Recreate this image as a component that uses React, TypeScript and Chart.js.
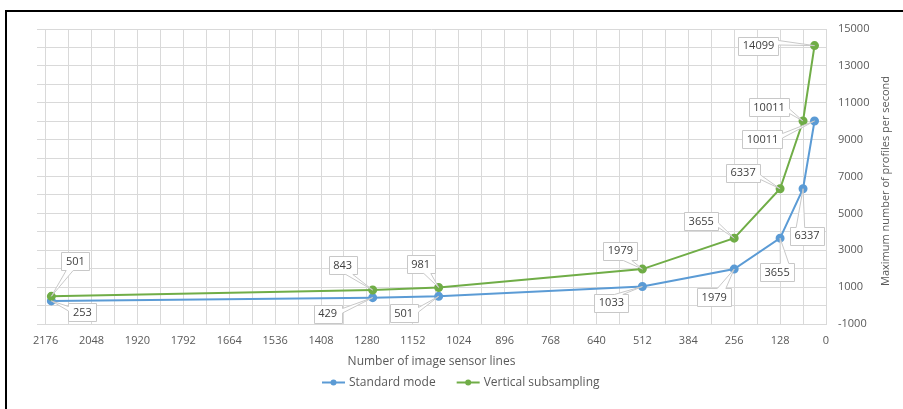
import React, { useEffect, useRef } from "react";
import { Chart, registerables } from "chart.js";

Chart.register(...registerables);

// ---- data ----
const sensorLines = [2160, 1264, 1080, 512, 256, 128, 64, 32];
const standardMode = [253, 429, 501, 1033, 1979, 3655, 6337, 10011];
const verticalSubsampling = [501, 843, 981, 1979, 3655, 6337, 10011, 14099];
const seriesNames = ["Standard mode", "Vertical subsampling"];
const xAxisTitle = "Number of image sensor lines";
const yAxisTitle = "Maximum number of profiles per second";
const xTickMax = 2176;
const xGridStep = 64;
const xLabelStep = 128;

// ---- styling / label placement (px offsets of label centres from points) ----
const standardLabelOffsets = [[31, 11], [-45, 16], [-35, 17], [-31, 16], [-20, 28], [-3, 34], [4, 47], [-52, 18]];
const subsamplingLabelOffsets = [[24, -35], [-30, -25], [-18, -23], [-22, -18.5], [-33, -17], [-37, -16], [-34, -14], [-56, 0]];
const BLUE = "#5B9BD5";
const GREEN = "#70AD47";
const TEXT = "#595959";
const GRID = "#d9d9d9";
const FONT = "'Open Sans', sans-serif";

function wedgePath(ctx: CanvasRenderingContext2D, l: number, t: number, w: number, h: number, xPos: number, yPos: number) {
  const r = l + w, b = t + h, hc = l + w / 2, vc = t + h / 2;
  const dxPos = xPos - hc, dyPos = yPos - vc;
  const dq = (dxPos * h) / w;
  const dz = Math.abs(dyPos) - Math.abs(dq);
  const x1 = l + (w * (dxPos > 0 ? 7 : 2)) / 12;
  const x2 = l + (w * (dxPos > 0 ? 10 : 5)) / 12;
  const y1 = t + (h * (dyPos > 0 ? 7 : 2)) / 12;
  const y2 = t + (h * (dyPos > 0 ? 10 : 5)) / 12;
  ctx.beginPath();
  if (dz > 0) {
    if (dyPos < 0) {
      ctx.moveTo(l, t); ctx.lineTo(x1, t); ctx.lineTo(xPos, yPos); ctx.lineTo(x2, t);
      ctx.lineTo(r, t); ctx.lineTo(r, b); ctx.lineTo(l, b);
    } else {
      ctx.moveTo(l, t); ctx.lineTo(r, t); ctx.lineTo(r, b); ctx.lineTo(x2, b);
      ctx.lineTo(xPos, yPos); ctx.lineTo(x1, b); ctx.lineTo(l, b);
    }
  } else {
    if (dxPos < 0) {
      ctx.moveTo(l, t); ctx.lineTo(r, t); ctx.lineTo(r, b); ctx.lineTo(l, b);
      ctx.lineTo(l, y2); ctx.lineTo(xPos, yPos); ctx.lineTo(l, y1);
    } else {
      ctx.moveTo(l, t); ctx.lineTo(r, t); ctx.lineTo(r, y1); ctx.lineTo(xPos, yPos);
      ctx.lineTo(r, y2); ctx.lineTo(r, b); ctx.lineTo(l, b);
    }
  }
  ctx.closePath();
}

const calloutPlugin = {
  id: "callouts",
  afterDatasetsDraw(chart: any) {
    const ctx: CanvasRenderingContext2D = chart.ctx;
    const offsetsByDataset = [standardLabelOffsets, subsamplingLabelOffsets];
    ctx.save();
    ctx.font = `11px ${FONT}`;
    ctx.textAlign = "center";
    ctx.textBaseline = "middle";
    chart.data.datasets.forEach((ds: any, di: number) => {
      const meta = chart.getDatasetMeta(di);
      meta.data.forEach((pt: any, i: number) => {
        const val = ds.data[i].y;
        const text = String(val);
        const [dx, dy] = offsetsByDataset[di][i];
        const cx = pt.x + dx, cy = pt.y + dy;
        const w = ctx.measureText(text).width + 9;
        const h = 18;
        wedgePath(ctx, Math.round(cx - w / 2) + 0.5, Math.round(cy - h / 2) + 0.5, Math.round(w), h, pt.x, pt.y);
        ctx.fillStyle = "#ffffff";
        ctx.fill();
        ctx.strokeStyle = "#c8c8c8";
        ctx.lineWidth = 1;
        ctx.stroke();
        ctx.fillStyle = "#404040";
        ctx.fillText(text, cx, cy + 0.5);
      });
    });
    ctx.restore();
  },
  afterDraw(chart: any) {
    const ctx: CanvasRenderingContext2D = chart.ctx;
    ctx.save();
    // y axis title (reads bottom-to-top)
    ctx.font = `11px ${FONT}`;
    ctx.fillStyle = TEXT;
    ctx.textAlign = "center";
    ctx.textBaseline = "middle";
    ctx.translate(886, 181);
    ctx.rotate(-Math.PI / 2);
    ctx.fillText(yAxisTitle, 0, 0);
    ctx.restore();

    // legend
    ctx.save();
    ctx.font = `12px ${FONT}`;
    ctx.textBaseline = "middle";
    ctx.textAlign = "left";
    const y = 382.5;
    let x = 322;
    const colors = [BLUE, GREEN];
    seriesNames.forEach((name, i) => {
      ctx.strokeStyle = colors[i];
      ctx.lineWidth = 2;
      ctx.beginPath();
      ctx.moveTo(x, y);
      ctx.lineTo(x + 23, y);
      ctx.stroke();
      ctx.fillStyle = colors[i];
      ctx.beginPath();
      ctx.arc(x + 11.5, y, 3, 0, Math.PI * 2);
      ctx.fill();
      ctx.fillStyle = TEXT;
      ctx.fillText(name, x + 27, y);
      x += 27 + ctx.measureText(name).width + 21;
    });
    ctx.restore();
  },
};

export default function App() {
  const canvasRef = useRef<HTMLCanvasElement | null>(null);

  useEffect(() => {
    document.body.style.margin = "0";
    document.body.style.overflow = "hidden";
    const canvas = canvasRef.current;
    if (!canvas) return;
    const chart = new Chart(canvas, {
      type: "line",
      data: {
        datasets: [
          {
            label: seriesNames[0],
            data: sensorLines.map((x, i) => ({ x, y: standardMode[i] })),
            borderColor: BLUE,
            backgroundColor: BLUE,
            borderWidth: 2,
            pointRadius: 3.5,
            pointBackgroundColor: BLUE,
            pointBorderColor: BLUE,
            tension: 0,
            order: 1,
          },
          {
            label: seriesNames[1],
            data: sensorLines.map((x, i) => ({ x, y: verticalSubsampling[i] })),
            borderColor: GREEN,
            backgroundColor: GREEN,
            borderWidth: 2,
            pointRadius: 3.5,
            pointBackgroundColor: GREEN,
            pointBorderColor: GREEN,
            tension: 0,
            order: 0,
          },
        ],
      },
      options: {
        responsive: false,
        animation: false,
        layout: { padding: { left: 37, top: 29, right: 0, bottom: 40 } },
        plugins: {
          legend: { display: false },
          tooltip: { enabled: false },
          title: { display: false },
        },
        scales: {
          x: {
            type: "linear",
            reverse: true,
            min: 0,
            max: 2200,
            afterBuildTicks: (scale: any) => {
              const ticks: any[] = [];
              for (let v = 0; v <= xTickMax; v += xGridStep) ticks.push({ value: v });
              scale.ticks = ticks;
            },
            afterFit: (scale: any) => {
              scale.height = 45;
            },
            ticks: {
              autoSkip: false,
              maxRotation: 0,
              padding: 10,
              color: TEXT,
              font: { family: FONT, size: 11 },
              callback: (v: any) => (Number(v) % xLabelStep === 0 ? String(v) : ""),
            },
            grid: { color: GRID, drawTicks: false, lineWidth: 1 },
            border: { display: true, color: GRID },
            title: {
              display: true,
              text: xAxisTitle,
              color: TEXT,
              font: { family: FONT, size: 12 },
              padding: { top: 4, bottom: 0 },
            },
          },
          y: {
            type: "linear",
            position: "right",
            min: -1000,
            max: 15000,
            afterFit: (scale: any) => {
              scale.width = 77;
            },
            ticks: {
              stepSize: 1000,
              autoSkip: false,
              padding: 12,
              color: TEXT,
              font: { family: FONT, size: 11 },
              callback: (v: any) => ((Number(v) + 1000) % 2000 === 0 ? String(v) : ""),
            },
            grid: { color: GRID, drawTicks: false, lineWidth: 1 },
            border: { display: true, color: GRID },
          },
        },
      },
      plugins: [calloutPlugin],
    });
    return () => chart.destroy();
  }, []);

  return (
    <div style={{ position: "relative", width: 903, height: 409, overflow: "hidden", background: "#fff" }}>
      <canvas ref={canvasRef} width={903} height={409} style={{ display: "block" }} />
      <div
        style={{
          position: "absolute",
          left: 5,
          top: 10,
          right: -10,
          bottom: -10,
          borderTop: "2px solid #000",
          borderLeft: "2px solid #000",
          pointerEvents: "none",
        }}
      />
    </div>
  );
}
